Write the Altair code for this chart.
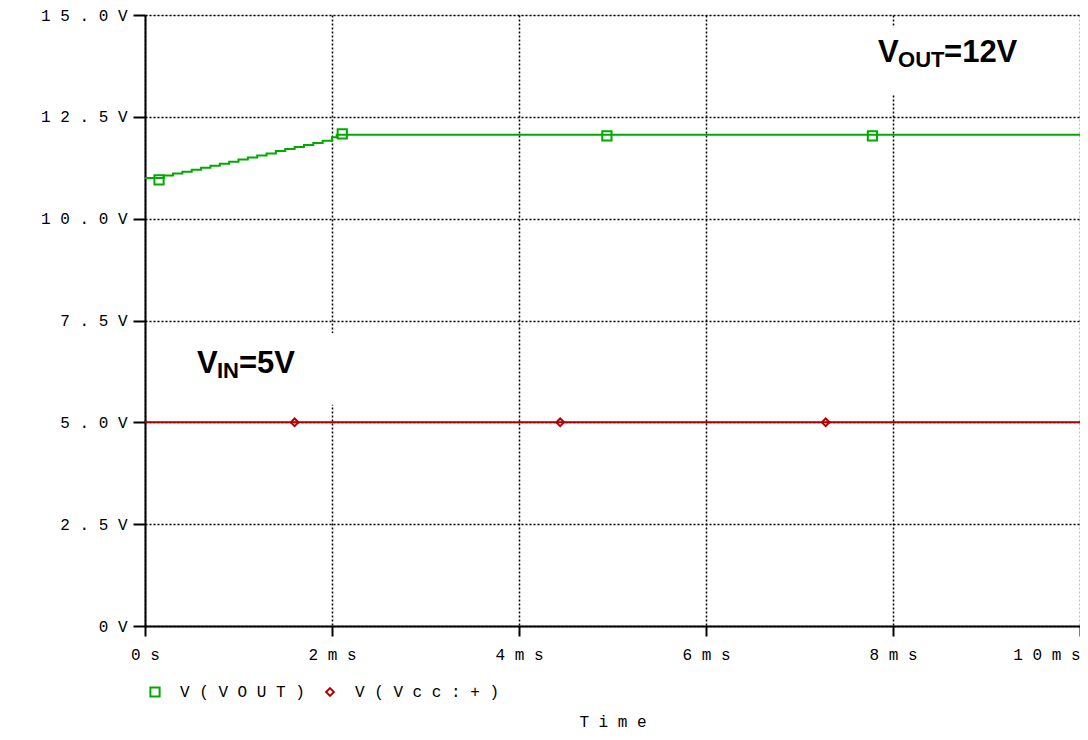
import json
import altair as alt
import pandas as pd

# ---- data (time in ms, voltage in V) ----
vout_t = [0.0, 0.1, 0.2, 0.3, 0.4, 0.5, 0.6, 0.7, 0.8, 0.9, 1.0, 1.1, 1.2, 1.3,
          1.4, 1.5, 1.6, 1.7, 1.8, 1.9, 2.0, 2.05, 10.0]
vout_v = [11.00, 11.00, 11.06, 11.11, 11.15, 11.20, 11.25, 11.30, 11.35, 11.40,
          11.45, 11.50, 11.55, 11.60, 11.66, 11.71, 11.76, 11.81, 11.86, 11.91,
          12.00, 12.06, 12.04]
vin_t = [0.0, 10.0]
vin_v = [5.0, 5.0]

vout_mark_t = [0.15, 2.11, 4.94, 7.78]
vout_mark_v = [10.95, 12.08, 12.03, 12.03]
vin_mark_t = [1.60, 4.44, 7.28]
vin_mark_v = [5.0, 5.0, 5.0]

series = ["V(VOUT)", "V(Vcc:+)"]
series_colors = ["#00aa00", "#b00000"]
series_shapes = ["square", "diamond"]

x_ticks = [0, 2, 4, 6, 8, 10]
x_tick_labels = ["0s", "2ms", "4ms", "6ms", "8ms", "10ms"]
y_ticks = [0, 2.5, 5, 7.5, 10, 12.5, 15]
y_tick_labels = ["0V", "2.5V", "5.0V", "7.5V", "10.0V", "12.5V", "15.0V"]

# annotations: anchor (ms, V), text pieces, white backing boxes
ann_main = ["V", "V"]
ann_sub = ["OUT", "IN"]
ann_rest = ["=12V", "=5V"]
ann_x = [7.84, 0.556]
ann_y = [13.85, 6.21]
box_x = [7.74, 0.47]
box_x2 = [9.5, 2.07]
box_y = [13.04, 5.43]
box_y2 = [14.7, 7.19]

# ---- layout constants (pixels, relative to the plot area) ----
ann_sub_dx = [20, 20]
ann_rest_dx = [66, 42]
legend_sym_x = [10, 185]
legend_lbl_x = [35, 210]
legend_y = 677
symbol_sizes = [85, 60]

# ---- tables ----
lines = pd.concat([
    pd.DataFrame({"t": vout_t, "v": vout_v, "series": series[0]}),
    pd.DataFrame({"t": vin_t, "v": vin_v, "series": series[1]}),
])
marks = pd.concat([
    pd.DataFrame({"t": vout_mark_t, "v": vout_mark_v, "series": series[0]}),
    pd.DataFrame({"t": vin_mark_t, "v": vin_mark_v, "series": series[1]}),
])
ann = pd.DataFrame({"idx": [0, 1], "main": ann_main, "sub": ann_sub, "rest": ann_rest,
                    "x": ann_x, "y": ann_y})
boxes = pd.DataFrame({"x": box_x, "x2": box_x2, "y": box_y, "y2": box_y2})
legend_df = pd.DataFrame({"series": series})

MONO = "Liberation Mono"
SANS = "Liberation Sans"


def spaced(labels_list, idx_expr):
    return "join(split(" + json.dumps(labels_list) + "[" + idx_expr + "], ''), ' ')"


x_scale = alt.Scale(domain=[0, 10], nice=False, zero=False)
y_scale = alt.Scale(domain=[0, 15], nice=False)
color_scale = alt.Scale(domain=series, range=series_colors)
shape_scale = alt.Scale(domain=series, range=series_shapes)

x_axis = alt.Axis(
    values=x_ticks, title="T i m e", titleFont=MONO, titleFontSize=16,
    titleFontWeight="normal", titleColor="black", titlePadding=51,
    labelExpr=spaced(x_tick_labels, "round(datum.value/2)"),
    labelFont=MONO, labelFontSize=16, labelColor="black", labelPadding=10,
    labelAlign={"condition": {"test": "datum.value == 10", "value": "right"}, "value": "center"},
    tickSize=10, tickWidth=2, tickColor="black",
    domainColor="black", domainWidth=2,
    grid=True, gridColor="black", gridDash=[2, 2], gridWidth=1.5, gridOpacity=1,
)
y_axis = alt.Axis(
    values=y_ticks, title=None,
    labelExpr=spaced(y_tick_labels, "round(datum.value/2.5)"),
    labelFont=MONO, labelFontSize=16, labelColor="black", labelPadding=6,
    labelBaseline="middle",
    tickSize=12, tickWidth=2, tickColor="black",
    domainColor="black", domainWidth=2,
    grid=True, gridColor="black", gridDash=[2, 2], gridWidth=1.5, gridOpacity=1,
)

X = alt.X("t:Q", scale=x_scale, axis=x_axis)
Y = alt.Y("v:Q", scale=y_scale, axis=y_axis)
AX = alt.X("x:Q", scale=x_scale, axis=x_axis)
AY = alt.Y("y:Q", scale=y_scale, axis=y_axis)

box_layer = alt.Chart(boxes).mark_rect(color="white").encode(
    x=AX, x2="x2:Q", y=AY, y2="y2:Q",
)

line_layer = alt.Chart(lines).mark_line(strokeWidth=2, interpolate="step-after").encode(
    x=X, y=Y,
    color=alt.Color("series:N", scale=color_scale, legend=None),
    detail="series:N",
)

marker_layer = alt.Chart(marks).mark_point(filled=False, strokeWidth=2, opacity=1).encode(
    x=X, y=Y,
    color=alt.Color("series:N", scale=color_scale, legend=None),
    shape=alt.Shape("series:N", scale=shape_scale, legend=None),
    size=alt.Size("series:N", scale=alt.Scale(domain=series, range=symbol_sizes), legend=None),
)

text_layers = []
for i in range(len(ann_main)):
    base = alt.Chart(ann).transform_filter(alt.datum.idx == i)
    text_layers.append(base.mark_text(
        font=SANS, fontWeight="bold", fontSize=31, align="left", baseline="alphabetic", color="black"
    ).encode(x=AX, y=AY, text="main:N"))
    text_layers.append(base.mark_text(
        font=SANS, fontWeight="bold", fontSize=22, align="left", baseline="alphabetic", color="black",
        dx=ann_sub_dx[i], dy=5
    ).encode(x=AX, y=AY, text="sub:N"))
    text_layers.append(base.mark_text(
        font=SANS, fontWeight="bold", fontSize=31, align="left", baseline="alphabetic", color="black",
        dx=ann_rest_dx[i]
    ).encode(x=AX, y=AY, text="rest:N"))

# legend below the axis (symbols + spaced monospace labels)
legend_layers = []
for i in range(len(series)):
    lb = alt.Chart(legend_df).transform_filter(alt.datum.series == series[i])
    legend_layers.append(lb.mark_point(filled=False, strokeWidth=2, opacity=1).encode(
        x=alt.value(legend_sym_x[i]), y=alt.value(legend_y),
        color=alt.Color("series:N", scale=color_scale, legend=None),
        shape=alt.Shape("series:N", scale=shape_scale, legend=None),
        size=alt.Size("series:N", scale=alt.Scale(domain=series, range=symbol_sizes), legend=None),
    ))
    legend_layers.append(lb.transform_calculate(
        lab="join(split(datum.series, ''), ' ')"
    ).mark_text(font=MONO, fontSize=16, align="left", baseline="middle", color="black").encode(
        x=alt.value(legend_lbl_x[i]), y=alt.value(legend_y), text="lab:N",
    ))

chart = alt.layer(
    box_layer, line_layer, marker_layer, *text_layers, *legend_layers
).properties(
    width=935, height=611,
    autosize=alt.AutoSizeParams(type="none"),
    padding={"left": 137, "top": 7, "right": 0, "bottom": 106},
).configure_view(
    stroke="black", strokeWidth=2
).configure(background="white")

chart.save("out.html", embed_options={"renderer": "svg", "actions": False})
